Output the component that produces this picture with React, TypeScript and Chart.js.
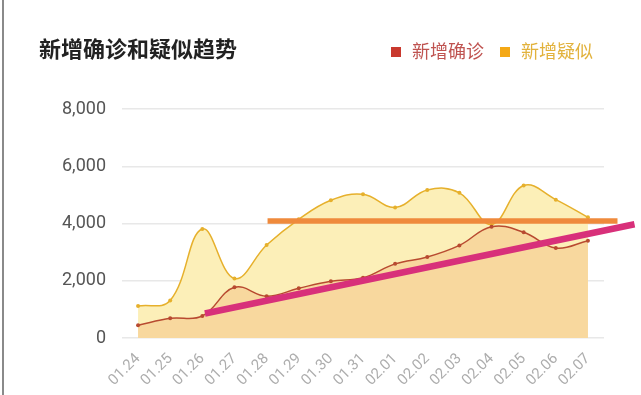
import React, { useEffect, useRef } from 'react';
import { Chart, registerables } from 'chart.js';

Chart.register(...registerables);

const chartTitle = '新增确诊和疑似趋势';
const seriesNames = ['新增确诊', '新增疑似'];
const categories = ['01.24', '01.25', '01.26', '01.27', '01.28', '01.29', '01.30', '01.31', '02.01', '02.02', '02.03', '02.04', '02.05', '02.06', '02.07'];
const confirmedValues = [444, 688, 769, 1771, 1459, 1737, 1982, 2102, 2590, 2829, 3235, 3887, 3694, 3143, 3399];
const suspectedValues = [1118, 1309, 3806, 2077, 3248, 4148, 4812, 5019, 4562, 5173, 5072, 3971, 5328, 4833, 4214];
const yTickValues = [0, 2000, 4000, 6000, 8000];
// hand-drawn annotation lines (x in category-index units)
const plateauX = [4.03, 14.92];
const plateauY = [4090, 4090];
const trendX = [2.08, 15.45];
const trendY = [855, 3972];

const CJK = '"Noto Sans CJK SC", "Noto Sans", sans-serif';

const headerPlugin = {
  id: 'header',
  afterDraw(chart: any) {
    const ctx = chart.ctx as CanvasRenderingContext2D;
    ctx.save();
    ctx.textBaseline = 'middle';
    ctx.textAlign = 'left';
    ctx.font = `bold 22px ${CJK}`;
    ctx.fillStyle = '#222222';
    ctx.fillText(chartTitle, 39, 49);

    ctx.font = `18px ${CJK}`;
    const items = [
      { text: seriesNames[0], box: '#c9392e', color: '#bf5350' },
      { text: seriesNames[1], box: '#f4a816', color: '#e2b23c' },
    ];
    const widths = items.map((it) => ctx.measureText(it.text).width);
    const box = 10;
    const gap = 11;
    const itemGap = 16;
    const total = items.reduce((s, _it, i) => s + box + gap + widths[i], 0) + itemGap * (items.length - 1);
    let cx = 593 - total;
    items.forEach((it, i) => {
      ctx.fillStyle = it.box;
      ctx.fillRect(cx, 47, box, box);
      cx += box + gap;
      ctx.fillStyle = it.color;
      ctx.fillText(it.text, cx, 51);
      cx += widths[i] + itemGap;
    });
    ctx.restore();
  },
};

export default function App() {
  const ref = useRef<HTMLCanvasElement | null>(null);

  useEffect(() => {
    if (!ref.current) return;
    const chart = new Chart(ref.current, {
      type: 'line',
      data: {
        labels: categories,
        datasets: [
          {
            label: 'plateau',
            data: plateauX.map((x, i) => ({ x, y: plateauY[i] })),
            xAxisID: 'x2',
            borderColor: '#ef8a3c',
            borderWidth: 5.5,
            pointRadius: 0,
            fill: false,
            tension: 0,
            clip: false as any,
            order: -2,
          },
          {
            label: 'trend',
            data: trendX.map((x, i) => ({ x, y: trendY[i] })),
            xAxisID: 'x2',
            borderColor: '#d8307a',
            borderWidth: 6.5,
            pointRadius: 0,
            fill: false,
            tension: 0,
            clip: false as any,
            order: -1,
          },
          {
            label: seriesNames[0],
            data: confirmedValues,
            borderColor: '#b84a30',
            backgroundColor: '#f8d89e',
            borderWidth: 1.5,
            pointRadius: 2,
            pointBackgroundColor: '#b84a30',
            pointBorderWidth: 0,
            fill: 'origin',
            tension: 0.4,
            order: 0,
          },
          {
            label: seriesNames[1],
            data: suspectedValues,
            borderColor: '#e6b02c',
            backgroundColor: '#fcefb8',
            borderWidth: 1.5,
            pointRadius: 2,
            pointBackgroundColor: '#e6b02c',
            pointBorderWidth: 0,
            fill: 'origin',
            tension: 0.4,
            order: 1,
          },
        ],
      },
      options: {
        responsive: false,
        animation: false,
        layout: { padding: { left: 58, right: 37, top: 109, bottom: 0 } },
        plugins: {
          legend: { display: false },
          title: { display: false },
          tooltip: { enabled: false },
        },
        scales: {
          x: {
            type: 'category',
            offset: true,
            grid: { display: false, drawTicks: false },
            border: { display: false },
            ticks: {
              autoSkip: false,
              minRotation: 45,
              maxRotation: 45,
              padding: 12,
              color: '#adadad',
              font: { size: 15, family: 'Roboto, sans-serif' },
            },
            afterFit: (scale: any) => {
              scale.height = 57;
            },
          },
          x2: {
            type: 'linear',
            display: false,
            min: -0.5,
            max: 14.5,
          },
          y: {
            min: 0,
            max: 8000,
            afterBuildTicks: (scale: any) => {
              scale.ticks = yTickValues.map((v) => ({ value: v }));
            },
            grid: { color: '#e8e8e8', lineWidth: 1.5, drawTicks: false },
            border: { display: false },
            ticks: {
              padding: 16,
              color: '#555555',
              font: { size: 18, family: 'Roboto, sans-serif' },
              callback: (v: any) => Number(v).toLocaleString('en-US'),
            },
            afterFit: (scale: any) => {
              scale.width = 64;
            },
          },
        },
      },
      plugins: [headerPlugin],
    });
    return () => chart.destroy();
  }, []);

  return (
    <div style={{ position: 'fixed', left: 0, top: 0, width: 641, height: 395, background: '#ffffff' }}>
      <div style={{ position: 'absolute', left: 2, top: 0, width: 2, height: 395, background: '#8a8a8a' }} />
      <canvas ref={ref} width={641} height={395} style={{ display: 'block', position: 'absolute', left: 0, top: 0 }} />
    </div>
  );
}
